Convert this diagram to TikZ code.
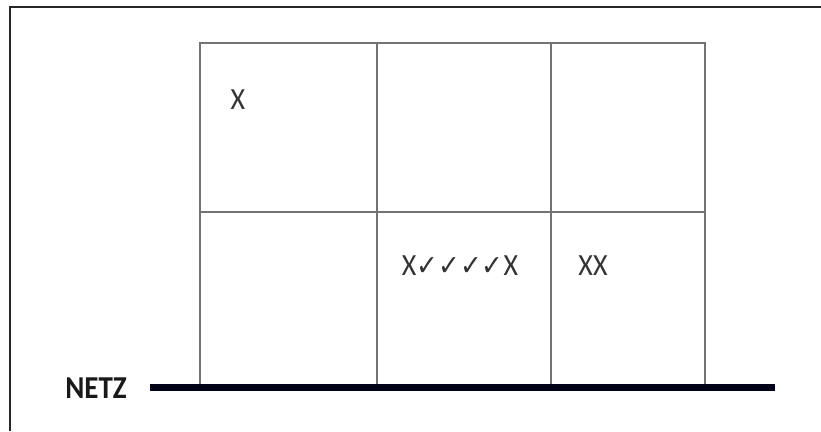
\documentclass[tikz,border=0pt]{standalone}
\usepackage{fontspec}
\setmainfont{Carlito}
\newfontfamily\symfont{DejaVu Sans}
\begin{document}
\begin{tikzpicture}[
        x=1pt, y=-1pt,
        frame/.style={draw=black!85, line width=2pt},
        wall/.style={draw=black!55, line width=1.5pt},
        netz/.style={draw=black!90!blue, line width=7pt},
        tally/.style={inner sep=0pt, font=\fontsize{28}{32}\selectfont, text=black!80,
            yscale=1.1}
    ]
        \useasboundingbox (0,0) rectangle (821,431);
        % outer frame
        \draw[frame] (10,431) -- (10,7) -- (821,7);
        % rooms
        \draw[wall] (200,384) -- (200,43) -- (705,43) -- (705,384);
        \draw[wall] (200,212) -- (705,212);
        \draw[wall] (377,43) -- (377,384);
        \draw[wall] (551,43) -- (551,384);
        % grid line
        \coordinate (netzL) at (150,387);
        \coordinate (netzR) at (775,387);
        \draw[netz] (netzL) -- (netzR);
        \node[font=\fontsize{29}{34}\selectfont\bfseries, text=black!90, inner sep=0pt,
            yscale=1.1] (netzlabel) at (96,388) {NETZ};
        \node[tally] (top) at (238,100) {X};
        \node[tally] (mid) at (460,266)
            {X{\symfont\fontsize{26}{32}\selectfont ✓✓✓✓}X};
        \node[tally] (right) at (593,266) {XX};
    \end{tikzpicture}
\end{document}
